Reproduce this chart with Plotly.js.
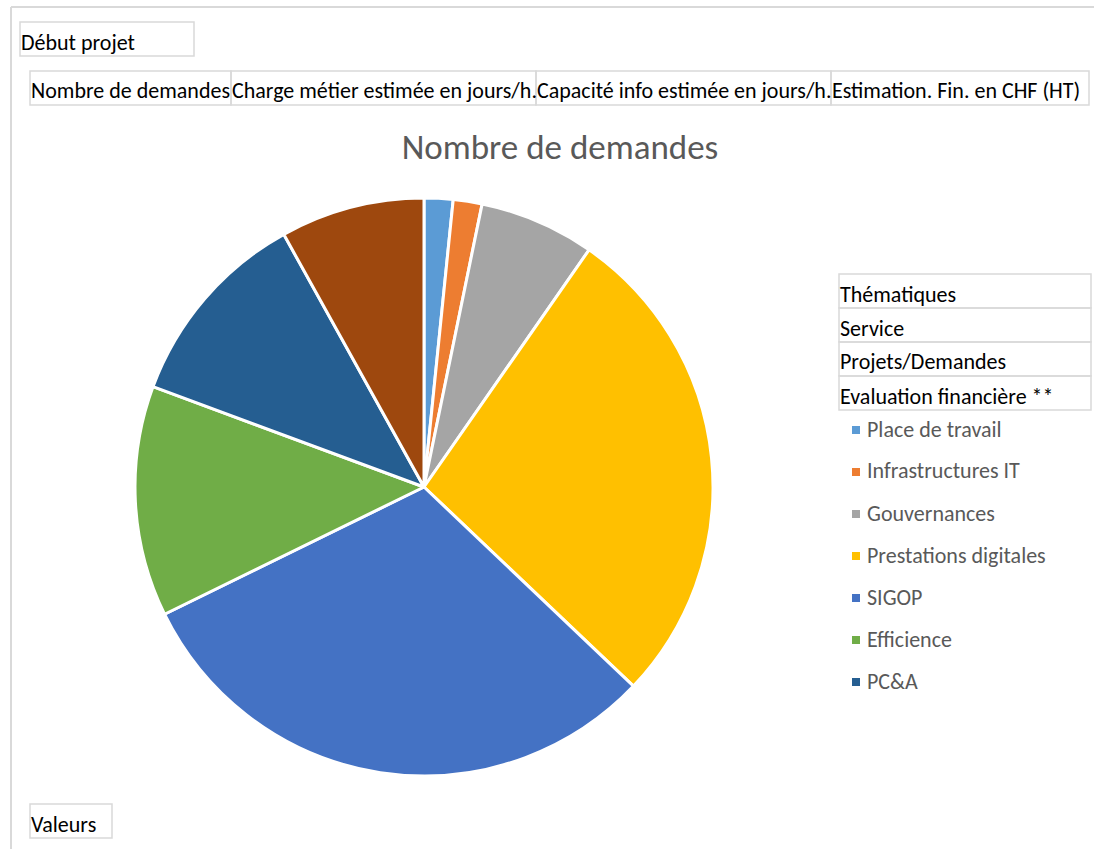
<!DOCTYPE html>
<html><head><meta charset="utf-8">
<script src="https://cdn.plot.ly/plotly-3.0.1.min.js"></script>
<style>html,body{margin:0;padding:0;background:#fff;}#chart{width:1094px;height:849px;}</style>
</head><body><div id="chart"></div>
<script>
// Data
const categories = ["Place de travail","Infrastructures IT","Gouvernances","Prestations digitales","SIGOP","Efficience","PC&A","(vide)"];
const demandes = [1,1,4,17,19,8,7,5];
const colors = ["#5B9BD5","#ED7D31","#A5A5A5","#FFC000","#4472C4","#70AD47","#255E91","#9E480E"];
const legendShown = 7; // legend in reference is cut after PC&A
const reportFilters = ["Début projet"];
const valueFields = ["Nombre de demandes","Charge métier estimée en jours/h.","Capacité info estimée en jours/h.","Estimation. Fin. en CHF (HT)"];
const rowFields = ["Thématiques","Service","Projets/Demandes","Evaluation financière **"];
const valuesLabel = "Valeurs";
const chartTitle = "Nombre de demandes";

const W = 1094, H = 849;
const px = x => x / W;
const py = y => 1 - y / H;
const FONT = "Carlito, Calibri, Lato, sans-serif";
const BORDER = "#d9d9d9";

const shapes = [];
const annotations = [];

function box(x0, y0, x1, y1, text, size) {
  shapes.push({type:"rect", xref:"paper", yref:"paper", x0:px(x0), x1:px(x1), y0:py(y1), y1:py(y0),
    line:{color:BORDER, width:1.5}, fillcolor:"rgba(0,0,0,0)"});
  annotations.push({xref:"paper", yref:"paper", x:px(x0-1), y:py((y0+y1)/2+3), xanchor:"left", yanchor:"middle",
    text:text, showarrow:false, font:{family:FONT, size:size||22, color:"#000"}});
}

// chart area border (left and top)
shapes.push({type:"line", xref:"paper", yref:"paper", x0:px(11), x1:px(11), y0:0, y1:py(7), line:{color:BORDER, width:2}});
shapes.push({type:"line", xref:"paper", yref:"paper", x0:px(11), x1:1, y0:py(7), y1:py(7), line:{color:BORDER, width:2}});

// report filter
box(20, 22, 194, 56, reportFilters[0]);
// value field buttons
const vx = [30, 231, 536, 831, 1089];
valueFields.forEach((t, i) => box(vx[i], 71, vx[i+1], 105, t));
// row field buttons
const ry = [274, 308, 342, 376, 410];
rowFields.forEach((t, i) => box(839, ry[i], 1091, ry[i+1], t));
// values button
box(30, 804, 112, 838, valuesLabel);

// manual legend
for (let i = 0; i < legendShown; i++) {
  const cy = 430 + i * 42;
  shapes.push({type:"rect", xref:"paper", yref:"paper", x0:px(852), x1:px(860), y0:py(cy+4), y1:py(cy-4),
    line:{width:0}, fillcolor:colors[i]});
  annotations.push({xref:"paper", yref:"paper", x:px(865), y:py(cy-1), xanchor:"left", yanchor:"middle",
    text:categories[i], showarrow:false, font:{family:FONT, size:22, color:"#595959"}});
}

const cx = 424, cy = 487, r = 289;
const trace = {
  type:"pie", labels:categories, values:demandes, sort:false, direction:"clockwise", rotation:0,
  marker:{colors:colors, line:{color:"#fff", width:3}},
  textinfo:"none", hoverinfo:"label+value+percent", showlegend:false,
  domain:{x:[px(cx-r), px(cx+r)], y:[py(cy+r), py(cy-r)]}
};

const layout = {
  width:W, height:H, margin:{l:0, r:0, t:0, b:0},
  paper_bgcolor:"#fff", plot_bgcolor:"#fff", showlegend:false,
  title:{text:chartTitle, x:px(560), xanchor:"center", y:py(147), yanchor:"middle",
    font:{family:FONT, size:35, color:"#595959"}},
  shapes:shapes, annotations:annotations
};

Plotly.newPlot("chart", [trace], layout, {displayModeBar:false, staticPlot:true});
</script>
</body></html>
